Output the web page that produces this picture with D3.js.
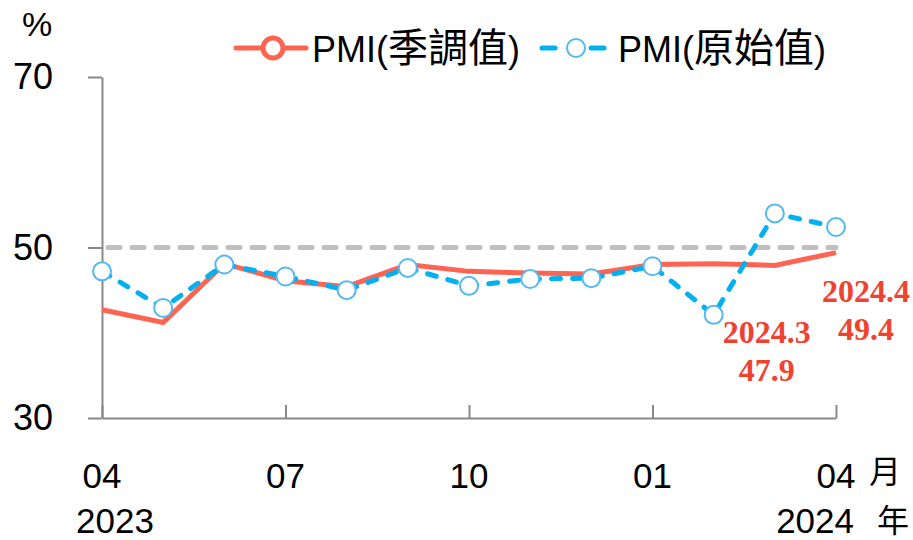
<!DOCTYPE html>
<html lang="zh-Hant">
<head>
  <meta charset="utf-8" />
  <title>PMI</title>
  <script src="https://cdn.jsdelivr.net/npm/d3@7"></script>
  <style>
    body { margin: 0; background: #fff; }
    svg text { font-family: "Liberation Sans", "Noto Sans CJK TC", sans-serif; }
  </style>
</head>
<body>
  <div id="chart"></div>

  <script type="text/javascript">

    const w = 913;
    const h = 540;

    // months Apr 2023 .. Apr 2024
    const months = ["2023-04", "2023-05", "2023-06", "2023-07", "2023-08", "2023-09", "2023-10",
                    "2023-11", "2023-12", "2024-01", "2024-02", "2024-03", "2024-04"];
    const pmiSA  = [42.7, 41.2, 48.1, 46.1, 45.4, 48.0, 47.2, 47.0, 46.9, 48.0, 48.1, 47.9, 49.4];
    const pmiRaw = [47.2, 42.9, 48.0, 46.6, 45.0, 47.6, 45.5, 46.3, 46.4, 47.8, 42.1, 54.0, 52.4];
    const yTicks = [30, 50, 70];
    const xTickMonths = ["2023-04", "2023-07", "2023-10", "2024-01", "2024-04"];
    const xTickLabels = ["04", "07", "10", "01", "04"];
    const callouts = [
      { month: "2024-03", top: "2024.3", bottom: "47.9" },
      { month: "2024-04", top: "2024.4", bottom: "49.4" }
    ];

    const red = "#FF6453";
    const blue = "#00B0F0";
    const axisGray = "#898989";

    const x = d3.scalePoint().domain(months).range([102, 836]);
    const y = d3.scaleLinear().domain([30, 70]).range([418, 77]);

    const svg = d3.select("#chart")
                  .append("svg")
                  .attr("width", w)
                  .attr("height", h);

    // y axis
    const yAxis = svg.append("g")
        .attr("transform", "translate(102,0)")
        .call(d3.axisLeft(y).tickValues(yTicks).tickSize(14).tickSizeOuter(0).tickPadding(35));
    yAxis.select(".domain").attr("stroke", axisGray).attr("stroke-width", 2);
    yAxis.selectAll(".tick line").attr("stroke", axisGray).attr("stroke-width", 2);
    yAxis.selectAll(".tick text")
        .attr("font-size", 36)
        .attr("fill", "#000")
        .attr("font-family", "Liberation Sans, sans-serif");

    // x axis (ticks point up)
    const xAxis = svg.append("g")
        .attr("transform", "translate(0,418)")
        .call(d3.axisBottom(x).tickValues(xTickMonths).tickSize(-13).tickSizeOuter(0).tickFormat(""));
    xAxis.select(".domain").attr("stroke", axisGray).attr("stroke-width", 2);
    xAxis.selectAll(".tick line").attr("stroke", axisGray).attr("stroke-width", 2);

    // month labels
    svg.selectAll("text.month")
       .data(xTickMonths)
       .enter()
       .append("text")
       .attr("class", "month")
       .attr("x", d => x(d))
       .attr("y", 488)
       .attr("text-anchor", "middle")
       .attr("font-size", 35)
       .text((d, i) => xTickLabels[i]);

    // year labels
    svg.append("text").attr("x", 76).attr("y", 533).attr("font-size", 35).text("2023");
    svg.append("text").attr("x", 854).attr("y", 533).attr("font-size", 35)
       .attr("text-anchor", "end").text("2024");
    svg.append("text").attr("x", 869).attr("y", 483).attr("font-size", 32)
       .style("font-family", "'Noto Sans CJK TC', sans-serif").text("月");
    svg.append("text").attr("x", 877).attr("y", 532).attr("font-size", 32)
       .style("font-family", "'Noto Sans CJK TC', sans-serif").text("年");
    svg.append("text").attr("x", 37).attr("y", 36).attr("font-size", 34)
       .attr("text-anchor", "middle").text("%");

    // 50 reference line
    svg.append("line")
       .attr("x1", 108).attr("x2", 836)
       .attr("y1", y(50)).attr("y2", y(50))
       .attr("stroke", "#BFBFBF")
       .attr("stroke-width", 5)
       .attr("stroke-linecap", "round")
       .attr("stroke-dasharray", "12,12");

    const line = d3.line().x((d, i) => x(months[i])).y(d => y(d));

    // seasonally adjusted
    svg.append("path")
       .datum(pmiSA)
       .attr("fill", "none")
       .attr("stroke", red)
       .attr("stroke-width", 5)
       .attr("d", line);

    // raw
    svg.append("path")
       .datum(pmiRaw)
       .attr("fill", "none")
       .attr("stroke", blue)
       .attr("stroke-width", 5)
       .attr("stroke-linecap", "round")
       .attr("stroke-dasharray", "9,12")
       .attr("d", line);

    svg.selectAll("circle.raw")
       .data(pmiRaw)
       .enter()
       .append("circle")
       .attr("class", "raw")
       .attr("cx", (d, i) => x(months[i]))
       .attr("cy", d => y(d))
       .attr("r", 9)
       .attr("fill", "#fff")
       .attr("stroke", "#55B8F0")
       .attr("stroke-width", 2);

    // callouts: 2024.3 sits below-left of its point, 2024.4 to the right
    const dx = [-8, 30];
    const topY = [343, 302];
    const co = svg.selectAll("g.callout")
       .data(callouts)
       .enter()
       .append("g")
       .attr("class", "callout")
       .attr("font-weight", "bold")
       .attr("font-size", 32)
       .attr("fill", "#F04231")
       .attr("text-anchor", "middle");
    co.append("text")
      .attr("x", (d, i) => x(d.month) + dx[i])
      .attr("y", (d, i) => topY[i])
      .style("font-family", "'Liberation Serif', serif")
      .text(d => d.top);
    co.append("text")
      .attr("x", (d, i) => x(d.month) + dx[i])
      .attr("y", (d, i) => topY[i] + 38)
      .style("font-family", "'Liberation Serif', serif")
      .text(d => d.bottom);

    // legend
    const legend = svg.append("g").attr("class", "legend");
    legend.append("line")
          .attr("x1", 236).attr("x2", 306).attr("y1", 48).attr("y2", 48)
          .attr("stroke", red).attr("stroke-width", 5).attr("stroke-linecap", "round");
    legend.append("circle")
          .attr("cx", 273).attr("cy", 48).attr("r", 10)
          .attr("fill", "#fff").attr("stroke", red).attr("stroke-width", 5);
    const t1 = legend.append("text").attr("x", 312).attr("y", 62).attr("font-size", 36);
    t1.append("tspan").text("PMI(");
    t1.append("tspan").attr("font-size", 40).text("季調值");
    t1.append("tspan").text(")");

    [[542, 555], [591, 604]].forEach(seg => {
      legend.append("line")
            .attr("x1", seg[0]).attr("x2", seg[1]).attr("y1", 48).attr("y2", 48)
            .attr("stroke", blue).attr("stroke-width", 5).attr("stroke-linecap", "round");
    });
    legend.append("circle")
          .attr("cx", 576).attr("cy", 48).attr("r", 9)
          .attr("fill", "#fff").attr("stroke", "#55B8F0").attr("stroke-width", 2);
    const t2 = legend.append("text").attr("x", 618).attr("y", 62).attr("font-size", 36);
    t2.append("tspan").text("PMI(");
    t2.append("tspan").attr("font-size", 40).text("原始值");
    t2.append("tspan").text(")");

  </script>
</body>
</html>
